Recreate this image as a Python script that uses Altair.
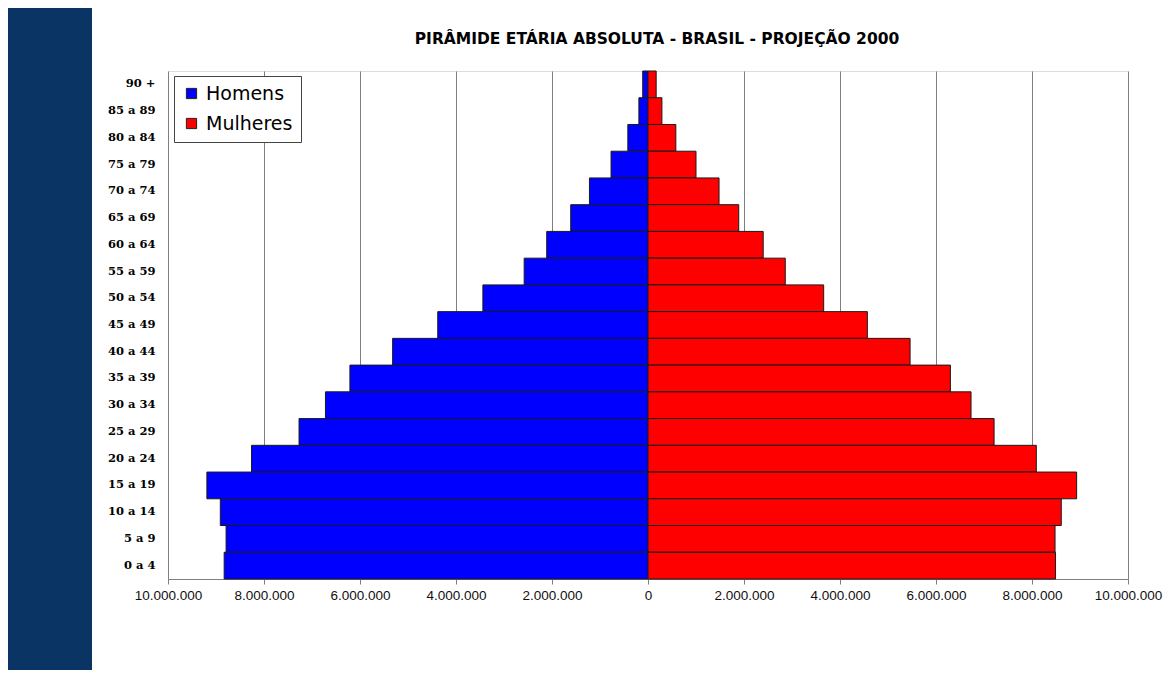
import altair as alt
import pandas as pd

ages = ["90 +", "85 a 89", "80 a 84", "75 a 79", "70 a 74", "65 a 69", "60 a 64",
        "55 a 59", "50 a 54", "45 a 49", "40 a 44", "35 a 39", "30 a 34", "25 a 29",
        "20 a 24", "15 a 19", "10 a 14", "5 a 9", "0 a 4"]
homens = [110000, 190000, 420000, 770000, 1220000, 1610000, 2110000,
          2580000, 3440000, 4380000, 5320000, 6210000, 6720000, 7270000,
          8260000, 9190000, 8910000, 8790000, 8830000]
mulheres = [170000, 290000, 580000, 1000000, 1480000, 1890000, 2400000,
            2860000, 3660000, 4570000, 5460000, 6300000, 6730000, 7210000,
            8090000, 8930000, 8610000, 8480000, 8490000]
sexos = ["Homens", "Mulheres"]
cores = ["#0000FF", "#FF0000"]
ticks = [-10000000, -8000000, -6000000, -4000000, -2000000, 0,
         2000000, 4000000, 6000000, 8000000, 10000000]
titulo = "PIRÂMIDE ETÁRIA ABSOLUTA - BRASIL - PROJEÇÃO 2000"

rows = []
for a, h, m in zip(ages, homens, mulheres):
    rows.append({"idade": a, "sexo": "Homens", "pop": -h})
    rows.append({"idade": a, "sexo": "Mulheres", "pop": m})
df = pd.DataFrame(rows)

W, H = 960, 508

strip = alt.Chart(pd.DataFrame({"k": [0]})).mark_rect(color="#0A3464").encode(
    x=alt.value(-160), x2=alt.value(-76), y=alt.value(-63), y2=alt.value(599)
)

title_mark = alt.Chart(pd.DataFrame({"t": [titulo]})).mark_text(
    font="DejaVu Sans", fontSize=15.5, fontWeight="bold", color="#000000",
    align="center", baseline="alphabetic"
).encode(text="t:N", x=alt.value(489), y=alt.value(-27))

bars = alt.Chart(df).mark_bar(stroke="#1a1a1a", strokeWidth=1).encode(
    y=alt.Y("idade:N", sort=ages,
            scale=alt.Scale(paddingInner=0, paddingOuter=0),
            axis=alt.Axis(title=None, ticks=False, domain=False, labelPadding=13,
                          labelFont="DejaVu Serif", labelFontWeight="bold",
                          labelFontSize=11.5, labelColor="#000000")),
    x=alt.X("pop:Q", stack=None,
            scale=alt.Scale(domain=[-10000000, 10000000], nice=False),
            axis=alt.Axis(title=None, values=ticks, grid=True, gridColor="#808080",
                          gridWidth=1, domainColor="#808080", tickColor="#808080",
                          tickSize=5, labelPadding=4, labelFont="Liberation Sans",
                          labelFontWeight="normal", labelOverlap=False, labelFlush=False,
                          labelFontSize=13.5, labelColor="#111111",
                          labelExpr="replace(replace(format(abs(datum.value), ','), ',', '.'), ',', '.')")),
    color=alt.Color("sexo:N",
                    scale=alt.Scale(domain=sexos, range=cores),
                    legend=alt.Legend(title=None, orient="none", legendX=6, legendY=5,
                                      symbolType="square", symbolSize=105,
                                      symbolStrokeColor="#222222", symbolStrokeWidth=1,
                                      labelFont="DejaVu Sans", labelFontSize=19,
                                      labelColor="#000000", labelOffset=5,
                                      fillColor="#FFFFFF", strokeColor="#444444",
                                      padding=8, rowPadding=10)),
)

chart = alt.layer(strip, title_mark, bars).properties(
    width=W, height=H,
    autosize=alt.AutoSizeParams(type="none"),
    padding={"left": 160, "top": 63, "right": 36, "bottom": 91},
).configure_view(stroke="#808080", strokeWidth=1).configure(background="#FFFFFF")

chart.save("out.html", embed_options={"renderer": "svg", "actions": False})
